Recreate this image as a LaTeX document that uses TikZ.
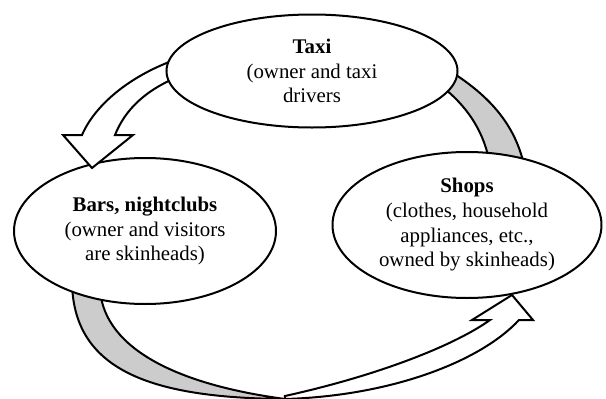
\documentclass[tikz,border=0pt]{standalone}
\usepackage{fontspec}
\setmainfont{Liberation Serif}
\usetikzlibrary{shapes.geometric}
\definecolor{bandgray}{RGB}{204,204,204}
\tikzset{
  place/.style={ellipse, draw, line width=1.2pt, fill=white, inner sep=0pt,
    align=center, font=\fontsize{12.5}{14.8}\selectfont},
  band/.style={draw, line width=1.2pt, fill=bandgray, line join=round},
  blockarrow/.style={draw, line width=1.2pt, fill=white, line join=miter}
}
\begin{document}
\begin{tikzpicture}[x=0.6pt, y=-0.6pt]
  \useasboundingbox (0,0) rectangle (606,399);

  \draw[band] (72,280) .. controls (72,370) and (150,398) .. (285,399)
              .. controls (180,385) and (105,350) .. (100,290) -- cycle;
  \node[place, minimum width=157.2pt, minimum height=87.6pt] (bars) at (145,231)
       {\textbf{Bars, nightclubs}\\(owner and visitors\\are skinheads)};

  \draw[band] (445,68) .. controls (490,95) and (515,125) .. (524,165)
              -- (490,165) .. controls (485,135) and (470,108) .. (440,85) -- cycle;
  \draw[blockarrow] (285,399) .. controls (390,396) and (480,362) .. (519,320)
                    -- (533,320) -- (512,295) -- (472,320) -- (490,320)
                    .. controls (455,345) and (380,375) .. (285,396) -- cycle;
  \node[place, minimum width=161.4pt, minimum height=87.6pt] (shops) at (467,225)
       {\textbf{Shops}\\(clothes, household\\appliances, etc.,\\owned by skinheads)};

  \draw[blockarrow] (180,58) .. controls (130,75) and (95,105) .. (82,135)
                    -- (63,135) -- (92,168) -- (133,135) -- (115,135)
                    .. controls (125,110) and (145,90) .. (180,76) -- cycle;
  \node[place, minimum width=174.6pt, minimum height=67.8pt] (taxi) at (312,71)
       {\textbf{Taxi}\\(owner and taxi\\drivers};
\end{tikzpicture}
\end{document}
